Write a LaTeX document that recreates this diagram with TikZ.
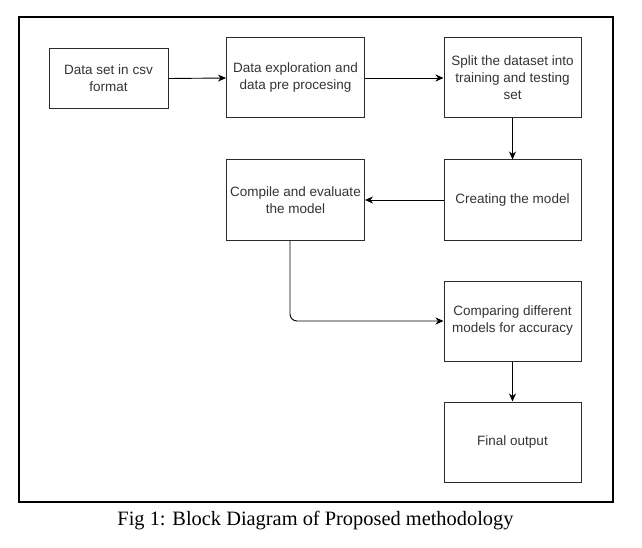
\documentclass[tikz,border=0pt]{standalone}
\usepackage{fontspec}
\setmainfont{Liberation Serif}
\newfontfamily\boxfont{Liberation Sans}
\usetikzlibrary{arrows.meta}
\definecolor{boxtext}{HTML}{333333}
\definecolor{boxline}{HTML}{2B2B2B}
\tikzset{
  blockbox/.style={draw=boxline, line width=1pt, rectangle, inner sep=0pt,
    align=center, font=\boxfont\fontsize{13.5}{17}\selectfont, text=boxtext},
  flowarrow/.style={draw=black, line width=0.9pt, -{Stealth[length=8pt,width=7pt,inset=2.5pt]}},
}
\begin{document}
\begin{tikzpicture}[x=1pt,y=-1pt]
\useasboundingbox (0,0) rectangle (642,548);
\draw[line width=1.1pt] (19,17) rectangle (613,502);

\node[blockbox, minimum width=119pt, minimum height=60pt] (b1) at (108.5,78.5) {Data set in csv\\format};
\node[blockbox, minimum width=138pt, minimum height=80pt] (b2) at (295.5,78) {Data exploration and\\data pre procesing};
\node[blockbox, minimum width=137pt, minimum height=80pt] (b3) at (512.5,78) {Split the dataset into\\training and testing\\set};
\node[blockbox, minimum width=137pt, minimum height=80pt] (b4) at (512.5,200) {Creating the model};
\node[blockbox, minimum width=138pt, minimum height=80pt] (b5) at (295.5,200) {Compile and evaluate\\the model};
\node[blockbox, minimum width=137pt, minimum height=80pt] (b6) at (512.5,321) {Comparing different\\models for accuracy};
\node[blockbox, minimum width=137pt, minimum height=80pt] (b7) at (512.5,442) {Final output};

\coordinate (bend) at (290,321);

\draw[flowarrow] (b1.east) -- (b2.west);
\draw[flowarrow] (b2.east) -- (b3.west);
\draw[flowarrow] (b3.south) -- (b4.north);
\draw[flowarrow] (b4.west) -- (b5.east);
\draw[flowarrow, rounded corners=7pt] (b5.south -| bend) -- (bend) -- (b6.west);
\draw[flowarrow] (b6.south) -- (b7.north);

\node[font=\fontsize{20.4}{24}\selectfont, inner sep=0pt] (cap) at (315.5,521) {Fig 1: Block Diagram of Proposed methodology};
\end{tikzpicture}
\end{document}
